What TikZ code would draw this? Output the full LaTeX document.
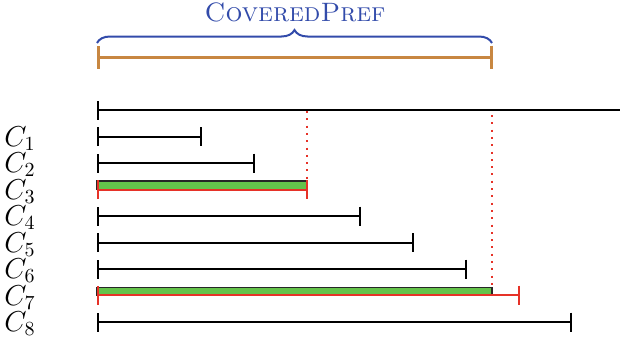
\documentclass[tikz,border=0pt]{standalone}
\usetikzlibrary{arrows.meta,decorations.pathreplacing}
\definecolor{prefblue}{RGB}{50,75,170}
\definecolor{preforange}{RGB}{200,135,65}
\definecolor{hitgreen}{RGB}{100,195,75}
\definecolor{hitred}{RGB}{230,50,40}
\tikzset{
  interval/.style={line width=1pt, {Bar[width=9.5pt]}-{Bar[width=9.5pt]}},
  halfinterval/.style={line width=1pt, {Bar[width=9.5pt]}-},
  redinterval/.style={interval, draw=hitred},
  covered/.style={fill=hitgreen, draw=black!85, line width=0.6pt},
  guide/.style={draw=hitred, line width=1pt, dash pattern=on 1pt off 2.65pt},
  rowlabel/.style={anchor=base west, inner sep=0pt, font=\fontsize{13.8}{16}\selectfont},
  preflabel/.style={anchor=base, inner sep=0pt, text=prefblue, font=\fontsize{13.3}{16}\selectfont},
}
\begin{document}
\begin{tikzpicture}[x=0.5pt, y=-0.5pt]
\useasboundingbox (0,0) rectangle (620,338);

% covered prefix with its brace and name
\coordinate (p0) at (97,57);
\coordinate (p1) at (492.5,57);
\draw[line width=1.5pt, draw=preforange, {Bar[width=11.5pt]}-{Bar[width=11.5pt]}] (p0) -- (p1);
\draw[prefblue, line width=1pt, decorate, decoration={brace, amplitude=6.5pt}]
  (97,43) -- (492,43);
\node[preflabel] (pref) at (295,21) {\textsc{CoveredPref}};

% whole sequence
\coordinate (s0) at (97,110);
\coordinate (s1) at (620,110);
\draw[halfinterval] (s0) -- (s1);

% guides at the two covering ends
\coordinate (g3a) at (307,111);
\coordinate (g3b) at (307,181);
\coordinate (g7a) at (492,115);
\coordinate (g7b) at (492,287.5);
\draw[guide] (g3a) -- (g3b);
\draw[guide] (g7a) -- (g7b);

% candidate intervals C_1 ... C_8
\foreach \i/\yy/\xe in {1/136.5/201.5, 2/163/254.5, 4/216/360.5, 5/242.5/413.5, 6/269/466.5, 8/322/571.5} {
  \coordinate (a\i) at (97,\yy);
  \coordinate (b\i) at (\xe,\yy);
  \draw[interval] (a\i) -- (b\i);
}

% C_3: fully covered
\coordinate (a3) at (97,189.5);
\coordinate (b3) at (307.5,189.5);
\draw[covered] (97,181) rectangle (b3);
\draw[redinterval] (a3) -- (b3);

% C_7: covered up to the prefix end
\coordinate (a7) at (97,295);
\coordinate (b7) at (519.5,295);
\draw[covered] (97,287.5) rectangle (492,295);
\draw[redinterval] (a7) -- (b7);

% row names
\foreach \i/\yy in {1/136.5, 2/163, 3/189.5, 4/216, 5/242.5, 6/269, 7/295.5, 8/322} {
  \node[rowlabel] (c\i) at (4,\yy+9.5) {$C_{\i}$};
}
\end{tikzpicture}
\end{document}
